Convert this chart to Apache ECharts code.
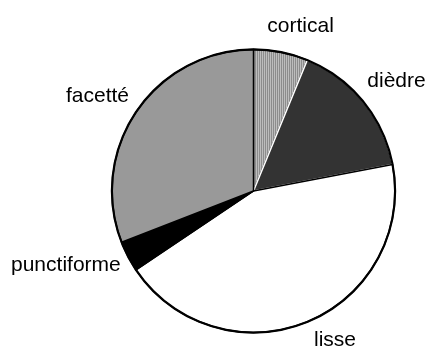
<!DOCTYPE html>
<html>
<head>
<meta charset="utf-8">
<script src="https://cdn.jsdelivr.net/npm/echarts@6/dist/echarts.min.js"></script>
<style>
  html, body { margin: 0; padding: 0; background: #ffffff; }
  #chart { width: 430px; height: 349px; }
</style>
</head>
<body>
<div id="chart"></div>
<script>
// Platform types (share of pieces, %)
const categories = ['cortical', 'dièdre', 'lisse', 'punctiforme', 'facetté'];
const shares = [6.2, 15.8, 43.6, 3.5, 30.9];

// Styling per slice
const fills = ['hatch', '#333333', '#ffffff', '#000000', '#999999'];
const edgeColors = ['#000000', '#ffffff', '#000000', '#000000', '#000000'];
// label placement: [radial gap, horizontal shift]
const labelGaps = [[26, -23.6], [32.4, -25.9], [19.6, -5.7], [19.4, -14.9], [26.7, -19.3]];

// vertical-stripe fill for the "cortical" slice
const hatch = document.createElement('canvas');
hatch.width = 2; hatch.height = 2;
const g = hatch.getContext('2d');
g.fillStyle = '#bdbdbd'; g.fillRect(0, 0, 2, 2);
g.fillStyle = '#8c8c8c'; g.fillRect(1, 0, 1, 2);

const CENTER = [253.5, 191];
const R = 141.5;

const chart = echarts.init(document.getElementById('chart'), null, { renderer: 'canvas' });

const pieData = categories.map((name, i) => ({
  name: name,
  value: shares[i],
  itemStyle: {
    color: fills[i] === 'hatch' ? { image: hatch, repeat: 'repeat' } : fills[i],
    borderColor: edgeColors[i],
    borderWidth: 1.5
  },
  labelLine: { show: false, length: labelGaps[i][0], length2: labelGaps[i][1] }
}));

chart.setOption({
  animation: false,
  backgroundColor: '#ffffff',
  series: [
    {
      type: 'pie',
      center: CENTER,
      radius: [0, R],
      startAngle: 90,
      clockwise: true,
      avoidLabelOverlap: false,
      silent: true,
      label: {
        show: true,
        position: 'outside',
        formatter: '{b}',
        color: '#000000',
        fontFamily: '"Liberation Sans", Arial, sans-serif',
        fontSize: 21,
        distanceToLabelLine: 5
      },
      labelLine: { show: false },
      data: pieData
    },
    {
      // outer outline of the pie
      type: 'pie',
      center: CENTER,
      radius: [R - 1, R + 1.2],
      silent: true,
      label: { show: false },
      labelLine: { show: false },
      itemStyle: { color: '#000000', borderWidth: 0 },
      data: [{ value: 1, name: 'outline' }]
    }
  ]
});
</script>
</body>
</html>
